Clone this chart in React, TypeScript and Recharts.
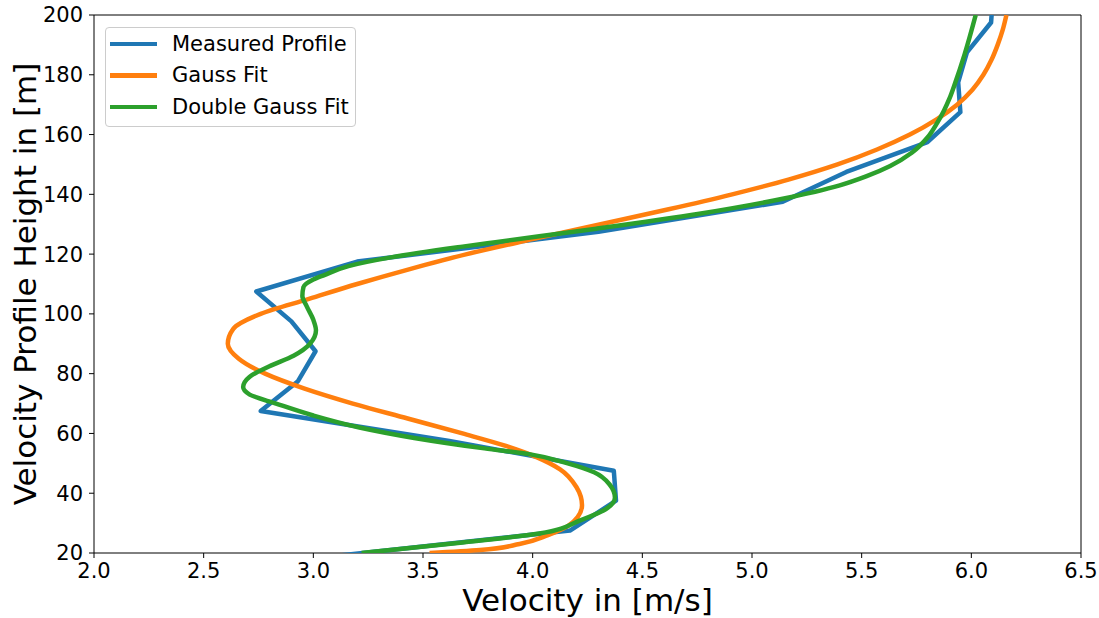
import React from 'react';
import { ScatterChart, Scatter, XAxis, YAxis, ReferenceArea } from 'recharts';

const FONT = '"DejaVu Sans", "Liberation Sans", sans-serif';

// Axis ticks
const xTicks = [2.0, 2.5, 3.0, 3.5, 4.0, 4.5, 5.0, 5.5, 6.0, 6.5];
const yTicks = [20, 40, 60, 80, 100, 120, 140, 160, 180, 200];

// Measured wind profile: height [m] and velocity [m/s]
const measuredHeights = [17.5, 27.5, 37.5, 47.5, 57.5, 67.5, 77.5, 87.5, 97.5, 107.5, 117.5, 127.5, 137.5, 147.5, 157.5, 167.5, 177.5, 187.5, 197.5, 207.5];
const measuredVelocity = [2.91, 4.17, 4.38, 4.37, 3.62, 2.76, 2.93, 3.01, 2.9, 2.74, 3.2, 4.3, 5.14, 5.43, 5.8, 5.95, 5.94, 5.98, 6.09, 6.1];

// Single Gauss fit
const gaussHeights = [20, 21, 23, 26, 29, 32, 36, 42, 48, 52, 56, 60, 65, 70, 75, 80, 85, 90, 95, 100, 105, 110, 115, 120, 125, 130, 135, 140, 145, 150, 155, 160, 165, 170, 175, 180, 185, 190, 195, 200];
const gaussVelocity = [3.53, 3.76, 3.94, 4.07, 4.16, 4.205, 4.225, 4.2, 4.125, 4.02, 3.87, 3.68, 3.43, 3.18, 2.96, 2.78, 2.66, 2.61, 2.635, 2.76, 2.98, 3.2, 3.44, 3.7, 4.0, 4.31, 4.62, 4.91, 5.17, 5.39, 5.57, 5.72, 5.84, 5.935, 6.005, 6.055, 6.092, 6.12, 6.143, 6.16];

// Double Gauss fit
const doubleHeights = [20, 23.5, 26.5, 31, 35, 38.5, 43, 47, 50, 53, 55, 58.5, 62, 66, 70, 73, 75.5, 79, 82.5, 86, 90, 94.5, 98, 102.5, 106, 109, 111.5, 113, 116, 119, 122.5, 124, 128.5, 133.5, 138.5, 143, 146, 149.5, 154, 159, 164, 168, 172, 177, 187, 200];
const doubleVelocity = [3.22, 3.68, 4.03, 4.22, 4.34, 4.375, 4.35, 4.28, 4.16, 3.99, 3.78, 3.46, 3.21, 3.0, 2.83, 2.71, 2.68, 2.71, 2.8, 2.91, 2.985, 3.012, 3.0, 2.97, 2.95, 2.955, 3.0, 3.05, 3.16, 3.36, 3.68, 3.83, 4.29, 4.76, 5.14, 5.4, 5.52, 5.63, 5.73, 5.8, 5.845, 5.875, 5.9, 5.925, 5.97, 6.02];

type Pt = { h: number; v: number };
const toPoints = (hs: number[], vs: number[]): Pt[] => hs.map((h, i) => ({ h, v: vs[i] }));

const series = [
  { name: 'Measured Profile', color: '#1f77b4', data: toPoints(measuredHeights, measuredVelocity), curve: 'linear' },
  { name: 'Gauss Fit', color: '#ff7f0e', data: toPoints(gaussHeights, gaussVelocity), curve: 'monotoneY' },
  { name: 'Double Gauss Fit', color: '#2ca02c', data: toPoints(doubleHeights, doubleVelocity), curve: 'monotoneY' },
];

const LINE_WIDTH = 4.5;

const noMarker = () => <g />;

const XTitle = (props: any) => {
  const vb = props?.viewBox ?? { x: 94, y: 553, width: 987, height: 65 };
  return (
    <text x={vb.x + vb.width / 2} y={vb.y + vb.height - 7} textAnchor="middle" fontFamily={FONT} fontSize={31} fill="#000">
      Velocity in [m/s]
    </text>
  );
};

const YTitle = (props: any) => {
  const vb = props?.viewBox ?? { x: 0, y: 15, width: 94, height: 538 };
  const cx = 36;
  const cy = vb.y + vb.height / 2;
  return (
    <text x={cx} y={cy} transform={`rotate(-90, ${cx}, ${cy})`} textAnchor="middle" fontFamily={FONT} fontSize={31} fill="#000">
      Velocity Profile Height in [m]
    </text>
  );
};

const tickStyle = { fontSize: 21, fill: '#000', fontFamily: FONT };

export default function App() {
  return (
    <div style={{ position: 'fixed', left: 0, top: 0, width: 1099, height: 618, background: '#fff', overflow: 'hidden', fontFamily: FONT }}>
      <ScatterChart width={1099} height={618} margin={{ top: 15, right: 18, bottom: 0, left: 0 }}>
        <XAxis
          type="number"
          dataKey="v"
          domain={[2, 6.5]}
          ticks={xTicks}
          tickFormatter={(v: number) => v.toFixed(1)}
          height={65}
          axisLine={false}
          tickLine={{ stroke: '#000' }}
          tickSize={5}
          tickMargin={5}
          tick={tickStyle}
          allowDataOverflow
          label={<XTitle />}
        />
        <YAxis
          type="number"
          dataKey="h"
          domain={[20, 200]}
          ticks={yTicks}
          width={94}
          axisLine={false}
          tickLine={{ stroke: '#000' }}
          tickSize={5}
          tickMargin={6}
          tick={tickStyle}
          allowDataOverflow
          label={<YTitle />}
        />
        {series.map((s) => (
          <Scatter
            key={s.name}
            name={s.name}
            data={s.data}
            fill={s.color}
            line={{ stroke: s.color, strokeWidth: LINE_WIDTH, strokeLinejoin: 'round', fill: 'none' }}
            lineType="joint"
            lineJointType={s.curve as any}
            shape={noMarker}
            isAnimationActive={false}
          />
        ))}
        <ReferenceArea x1={2} x2={6.5} y1={20} y2={200} fill="none" fillOpacity={0} stroke="#000" strokeWidth={1} />
      </ScatterChart>
      <div
        style={{
          position: 'absolute',
          left: 105,
          top: 27,
          width: 251,
          height: 100,
          border: '1px solid #cccccc',
          borderRadius: 4,
          background: 'rgba(255,255,255,0.8)',
          boxSizing: 'border-box',
        }}
      >
        {series.map((s, i) => (
          <div
            key={s.name}
            style={{ position: 'absolute', left: 0, top: 1 + i * 31.5, height: 30, display: 'flex', alignItems: 'center', whiteSpace: 'nowrap' }}
          >
            <span style={{ display: 'inline-block', marginLeft: 4, width: 47, height: LINE_WIDTH, background: s.color }} />
            <span style={{ marginLeft: 15, fontSize: 21, lineHeight: 1, color: '#000' }}>{s.name}</span>
          </div>
        ))}
      </div>
    </div>
  );
}
